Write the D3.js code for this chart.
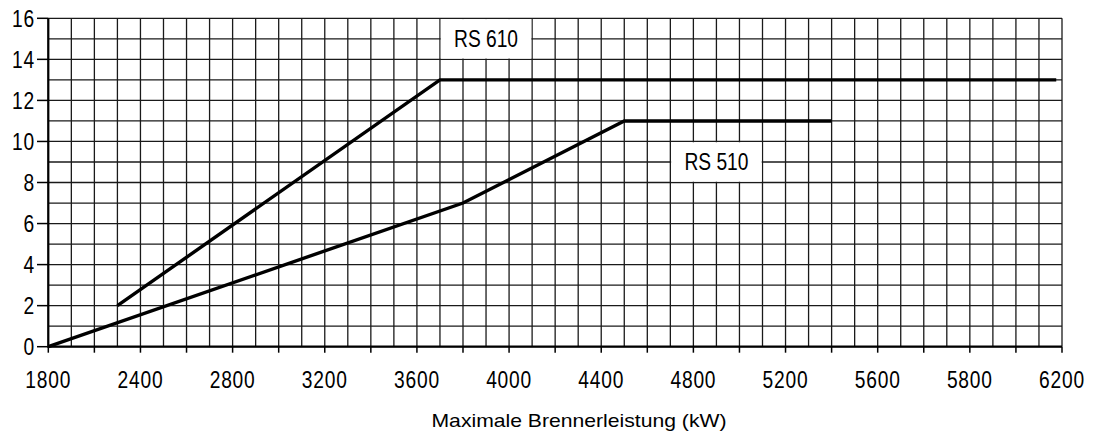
<!DOCTYPE html>
<html><head><meta charset="utf-8">
<script src="https://cdn.jsdelivr.net/npm/d3@7"></script>
<style>body{margin:0;background:#fff}</style>
</head><body><svg id="c" width="1093" height="440"></svg>
<script>
// ---- data ----
const xTickLabels = [1800, 2400, 2800, 3200, 3600, 4000, 4400, 4800, 5200, 5600, 5800, 6200];
const yTickValues = [0, 2, 4, 6, 8, 10, 12, 14, 16];
const rs610X = [2250, 3700, 6175];
const rs610Y = [2, 13, 13];
const rs510X = [1800, 3800, 4500, 5400];
const rs510Y = [0, 7, 11, 11];
const seriesNames = ["RS 610", "RS 510"];
const labelBoxX = [[3700, 4100], [4700, 5100]];
const labelBoxY = [[14, 16], [8, 10]];
const xTitle = "Maximale Brennerleistung (kW)";

// ---- layout ----
const L = 48.3, R = 1062, T = 18.3, B = 346.7;
const W = R - L;
const nSeg = xTickLabels.length - 1;
const svg = d3.select("#c");
const numFont = "'Liberation Sans',Arial,sans-serif";
const SX = 0.8;

const x = d3.scaleLinear()
  .domain(xTickLabels)
  .range(xTickLabels.map((d, i) => L + i * W / nSeg));
const y = d3.scaleLinear().domain([0, 16]).range([B, T]);

// grid
const g = svg.append("g");
const nV = nSeg * 4;
g.selectAll("line.v").data(d3.range(nV + 1)).join("line")
  .attr("x1", i => L + i * W / nV).attr("x2", i => L + i * W / nV)
  .attr("y1", T).attr("y2", B)
  .attr("stroke", "#1a1a1a").attr("stroke-width", 1.3);
g.selectAll("line.h").data(d3.range(0, 17)).join("line")
  .attr("x1", L).attr("x2", R)
  .attr("y1", d => y(d)).attr("y2", d => y(d))
  .attr("stroke", "#1a1a1a").attr("stroke-width", 1.3);

// label boxes
svg.selectAll("rect.lb").data(seriesNames).join("rect")
  .attr("x", (d, i) => x(labelBoxX[i][0]) + 0.8)
  .attr("width", (d, i) => x(labelBoxX[i][1]) - x(labelBoxX[i][0]) - 1.6)
  .attr("y", (d, i) => y(labelBoxY[i][1]) + 0.8)
  .attr("height", (d, i) => y(labelBoxY[i][0]) - y(labelBoxY[i][1]) - 1.6)
  .attr("fill", "#fff");

// series
const line = d3.line().x(d => x(d[0])).y(d => y(d[1]));
const series = [d3.zip(rs610X, rs610Y), d3.zip(rs510X, rs510Y)];
svg.selectAll("path.s").data(series).join("path")
  .attr("d", line).attr("fill", "none")
  .attr("stroke", "#000").attr("stroke-width", 3.4)
  .attr("stroke-linejoin", "miter");

// frame
svg.append("line").attr("x1", L).attr("x2", R).attr("y1", B).attr("y2", B)
  .attr("stroke", "#000").attr("stroke-width", 2.2);
svg.append("line").attr("x1", L).attr("x2", L).attr("y1", T).attr("y2", B + 1)
  .attr("stroke", "#000").attr("stroke-width", 2.2);

function narrowText(sel) {
  return sel.attr("font-family", numFont).attr("font-size", 24).attr("fill", "#000")
    .attr("letter-spacing", 1);
}

// x axis ticks (every half label interval)
const nT = nSeg * 2;
svg.selectAll("line.xt").data(d3.range(nT + 1)).join("line")
  .attr("x1", i => L + i * W / nT).attr("x2", i => L + i * W / nT)
  .attr("y1", B).attr("y2", B + 6)
  .attr("stroke", "#000").attr("stroke-width", 1.5);
narrowText(svg.selectAll("text.xl").data(xTickLabels).join("text"))
  .attr("transform", d => `translate(${x(d)},388) scale(${SX},1)`)
  .attr("text-anchor", "middle")
  .text(d => d);

// y axis ticks
svg.selectAll("line.yt").data(yTickValues).join("line")
  .attr("x1", 37).attr("x2", L).attr("y1", d => y(d)).attr("y2", d => y(d))
  .attr("stroke", "#000").attr("stroke-width", 1.5);
narrowText(svg.selectAll("text.yl").data(yTickValues).join("text"))
  .attr("transform", d => `translate(35,${y(d) + 8.5}) scale(${SX},1)`)
  .attr("text-anchor", "end")
  .text(d => d);

// series labels
narrowText(svg.selectAll("text.sl").data(seriesNames).join("text"))
  .attr("transform", (d, i) => `translate(${(x(labelBoxX[i][0]) + x(labelBoxX[i][1])) / 2},${y((labelBoxY[i][0] + labelBoxY[i][1]) / 2) + 8.5}) scale(${SX},1)`)
  .attr("letter-spacing", 0)
  .attr("text-anchor", "middle")
  .text(d => d);

// x title
svg.append("text").attr("x", 579).attr("y", 427)
  .attr("text-anchor", "middle")
  .attr("font-family", "'Liberation Sans',Arial,sans-serif").attr("font-size", 19).attr("fill", "#000")
  .attr("textLength", 295).attr("lengthAdjust", "spacingAndGlyphs")
  .text(xTitle);
</script></body></html>
